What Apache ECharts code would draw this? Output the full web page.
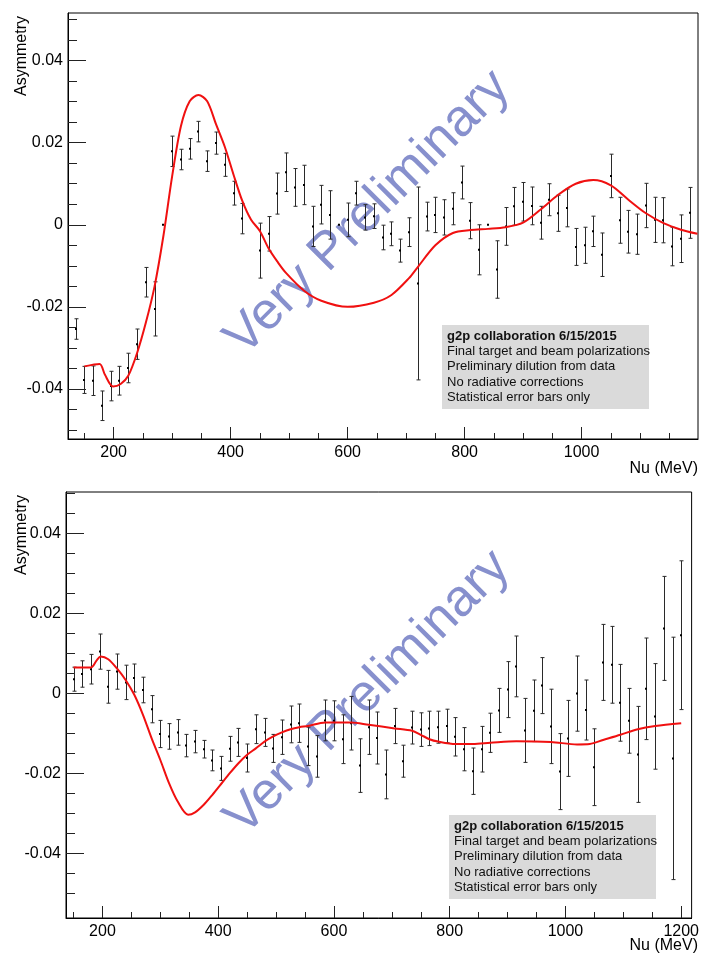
<!DOCTYPE html>
<html>
<head>
<meta charset="utf-8">
<script src="https://cdn.jsdelivr.net/npm/echarts@6/dist/echarts.min.js"></script>
<style>
  html, body { margin: 0; padding: 0; background: #fff; }
  #chart { width: 702px; height: 956px; }
</style>
</head>
<body>
<div id="chart"></div>
<script>
// ---- top panel: measured asymmetry (Nu in MeV) ----
const topNu = [135,150,165,180,195,210,225,240,255,270,285,300,315,330,345,360,375,390,405,420,
  435,450,465,480,495,510,525,540,555,570,585,600,615,630,645,660,675,690,705,720,
  735,750,765,780,795,810,825,840,855,870,885,900,915,930,945,960,975,990,1005,1020,
  1035,1050,1065,1080,1095,1110,1125,1140,1155,1170,1185]
const topAsym = [-0.0254,-0.0378,-0.038,-0.0441,-0.0393,-0.038,-0.0349,-0.0291,-0.014,-0.0205,
  0,0.0179,0.0159,0.0185,0.0227,0.0155,0.0199,0.0146,0.0077,0.0015,
  null,-0.0063,-0.0022,0.0076,0.0128,0.0091,0.0097,-0.0004,0.0049,0.0024,
  0,0.0012,0.0077,0.0018,0.0021,-0.0031,-0.0022,-0.0063,-0.0018,-0.0143,
  0.002,0.0024,0.0018,0.0039,0.0103,0.001,-0.0061,0,-0.0109,-0.0004,
  0.0045,0.0056,0.0046,0.0005,0.0061,0.0028,0.0041,-0.0054,-0.005,-0.0016,
  -0.0073,0.0119,0.0011,-0.0017,-0.0023,0.0047,0.0012,0.0011,-0.0053,-0.0034,0.0029]
const topErr = [0.0025,0.0033,0.0036,0.0036,0.0036,0.0035,0.0036,0.0037,0.0036,0.0066,
  0,0.0037,0.0025,0.0025,0.0025,0.0025,0.0027,0.0028,0.0029,0.0037,
  null,0.0067,0.0042,0.005,0.0047,0.0046,0.0048,0.0049,0.0047,0.0059,
  0,0.0041,0.0029,0.0031,0.003,0.003,0.0029,0.0028,0.0035,0.0235,
  0.0035,0.0043,0.0043,0.0039,0.004,0.0044,0.0061,0,0.007,0.0046,
  0.0046,0.0047,0.0046,0.004,0.0039,0.0044,0.0046,0.0045,0.0044,0.0037,
  0.0053,0.0053,0.0056,0.0052,0.0049,0.0054,0.0055,0.0055,0.0047,0.0058,0.0062]

// top panel model curve
const topCurveNu = [150,176,185,199,212,225,240,255,270,285,300,315,330,345,360,375,390,405,420,435,
  450,465,480,495,525,555,600,645,675,705,720,750,780,810,840,870,900,930,960,990,
  1020,1050,1080,1110,1140,1170,1198]
const topCurveAsym = [-0.0345,-0.0339,-0.0365,-0.0394,-0.0388,-0.0368,-0.0313,-0.0239,-0.015,-0.0028,
  0.0118,0.024,0.0301,0.0316,0.0301,0.0245,0.019,0.0122,0.0058,0.0012,
  -0.0015,-0.0058,-0.009,-0.0118,-0.016,-0.0185,-0.02,-0.019,-0.0171,-0.013,
  -0.0103,-0.005,-0.002,-0.0013,-0.001,-0.0006,0.0005,0.0037,0.0073,0.01,
  0.0109,0.0096,0.0061,0.0028,0.0004,-0.0012,-0.0022]

// ---- bottom panel ----
const bottomNu = [150,165,180,195,210,225,240,255,270,285,300,315,330,345,360,375,390,405,420,435,
  450,465,480,495,510,525,540,555,570,585,600,615,630,645,660,675,690,705,720,735,
  750,765,780,795,810,825,840,855,870,885,900,915,930,945,960,975,990,1005,1020,1035,
  1050,1065,1080,1095,1110,1125,1140,1155,1170,1185,1200]
const bottomAsym = [0.0035,0.0048,0.006,0.0104,0.0016,0.0054,0.0027,0.0038,0.0008,-0.004,
  -0.0102,-0.0108,-0.0098,-0.0131,-0.0121,-0.014,-0.0168,-0.0188,-0.0139,-0.0123,
  -0.0162,-0.009,-0.0098,-0.0138,-0.011,-0.0078,-0.0075,-0.0133,-0.0158,-0.0068,
  -0.0069,-0.0115,-0.0075,-0.0181,-0.0085,-0.0112,-0.0203,-0.0082,-0.017,-0.0086,
  -0.0091,-0.0088,-0.0085,-0.0082,-0.0109,-0.014,-0.0195,-0.014,-0.0099,-0.0043,
  0.0009,0.0067,-0.0093,-0.0044,0.0019,-0.0083,-0.0196,-0.0113,-0.0001,-0.0042,
  -0.0185,0.0077,0.0071,-0.0024,-0.0069,-0.0153,0.0011,-0.0058,0.0162,-0.0163,0.0145]
const bottomErr = [0.003,0.0033,0.0037,0.0044,0.0041,0.0044,0.0043,0.0035,0.0032,0.0034,
  0.0034,0.0032,0.0032,0.0028,0.0028,0.0022,0.0026,0.003,0.0031,0.0035,
  0.0035,0.0036,0.0035,0.0035,0.0043,0.0046,0.0048,0.0048,0.0052,0.0051,
  0.005,0.0061,0.0067,0.0067,0.0068,0.0065,0.0061,0.0044,0.004,0.0041,
  0.0042,0.0043,0.004,0.0042,0.0048,0.0054,0.0058,0.0057,0.0049,0.0055,
  0.007,0.0076,0.008,0.0077,0.007,0.0093,0.0095,0.0095,0.0094,0.0075,
  0.0096,0.0095,0.0096,0.0096,0.0081,0.012,0.0127,0.0132,0.013,0.0303,0.0186]

const bottomCurveNu = [150,180,190,197,210,225,240,255,270,285,300,315,330,348,360,375,390,405,420,435,
  450,465,480,495,510,525,540,555,585,630,660,705,735,750,765,780,810,840,870,915,
  975,1020,1042,1065,1095,1125,1155,1200]
const bottomCurveAsym = [0.0064,0.0064,0.0082,0.0092,0.0085,0.0062,0.0033,-0.0004,-0.0054,-0.0113,
  -0.0167,-0.0225,-0.0271,-0.0304,-0.0298,-0.0279,-0.0254,-0.0227,-0.02,-0.0175,
  -0.0154,-0.0138,-0.0121,-0.0108,-0.0098,-0.009,-0.0085,-0.0082,-0.0073,-0.0073,
  -0.0079,-0.0088,-0.0094,-0.0104,-0.0115,-0.0121,-0.0127,-0.0127,-0.0124,-0.012,
  -0.0122,-0.0128,-0.0127,-0.0117,-0.0104,-0.009,-0.0082,-0.0075]

// tick labels
const topXLabels = [200, 400, 600, 800, 1000]
const bottomXLabels = [200, 400, 600, 800, 1000, 1200]
const yLabels = [-0.04, -0.02, 0, 0.02, 0.04]

const notes = ['g2p collaboration 6/15/2015', 'Final target and beam polarizations',
  'Preliminary dilution from data', 'No radiative corrections', 'Statistical error bars only']

const FONT = '"Liberation Sans", Arial, Helvetica, sans-serif'

// minor tick positions
function steps(from, to, step) {
  const out = []
  for (let v = from; v <= to + 1e-9; v += step) out.push(Math.round(v * 10000) / 10000)
  return out
}
const xMinor = steps(150, 1200, 50)
const yMinor = steps(-0.05, 0.05, 0.005)

function errData(nu, asym, err) {
  const out = []
  nu.forEach((x, i) => { if (asym[i] !== null) out.push([x, asym[i], err[i]]) })
  return out
}
function pairs(xs, ys) { return xs.map((x, i) => [x, ys[i]]) }

function renderErr(params, api) {
  const x = api.value(0), y = api.value(1), e = api.value(2)
  const c = api.coord([x, y])
  const px = Math.round(c[0]) + 0.5
  const children = []
  if (e > 0) {
    const hi = api.coord([x, y + e])[1], lo = api.coord([x, y - e])[1]
    const st = { stroke: '#2a2a2a', lineWidth: 1 }
    children.push({ type: 'line', shape: { x1: px, y1: hi, x2: px, y2: lo }, style: st })
    children.push({ type: 'line', shape: { x1: px - 2, y1: hi, x2: px + 2, y2: hi }, style: st })
    children.push({ type: 'line', shape: { x1: px - 2, y1: lo, x2: px + 2, y2: lo }, style: st })
  }
  children.push({ type: 'rect', shape: { x: px - 1.5, y: c[1] - 1, width: 2, height: 2 }, style: { fill: '#000' } })
  return { type: 'group', children }
}

function xAxisPair(gridIndex, min, max, labels) {
  return [
    { type: 'value', gridIndex, min, max, position: 'bottom',
      axisLine: { show: true, onZero: false, lineStyle: { color: '#000', width: 1 } },
      axisTick: { show: true, inside: true, length: 12, customValues: labels, lineStyle: { color: '#222' } },
      axisLabel: { show: true, customValues: labels, margin: 6, color: '#000', fontSize: 16, fontFamily: FONT,
        formatter: v => String(v) },
      splitLine: { show: false } },
    { type: 'value', gridIndex, min, max, position: 'bottom',
      axisLine: { show: false, onZero: false },
      axisTick: { show: true, inside: true, length: 6, customValues: xMinor.filter(v => v > min && v < max), lineStyle: { color: '#222' } },
      axisLabel: { show: false }, splitLine: { show: false } }
  ]
}
function yAxisPair(gridIndex, min, max) {
  return [
    { type: 'value', gridIndex, min, max, position: 'left',
      axisLine: { show: true, onZero: false, lineStyle: { color: '#000', width: 1 } },
      axisTick: { show: true, inside: true, length: 18, customValues: yLabels, lineStyle: { color: '#222' } },
      axisLabel: { show: true, customValues: yLabels, margin: 5, color: '#000', fontSize: 16, fontFamily: FONT,
        formatter: v => String(v) },
      splitLine: { show: false } },
    { type: 'value', gridIndex, min, max, position: 'left',
      axisLine: { show: false, onZero: false },
      axisTick: { show: true, inside: true, length: 9, customValues: yMinor.filter(v => v > min && v < max), lineStyle: { color: '#222' } },
      axisLabel: { show: false }, splitLine: { show: false } }
  ]
}

function noteBox(x, y) {
  const children = [{ type: 'rect', shape: { x: 0, y: 0, width: 207, height: 84 }, style: { fill: '#dadada' } }]
  notes.forEach((t, i) => {
    children.push({ type: 'text', x: 5, y: 11 + i * 15.4,
      style: { text: t, fill: '#111', font: (i === 0 ? 'bold ' : '') + '13px ' + FONT, textVerticalAlign: 'middle' } })
  })
  return { type: 'group', x, y, z: 20, children }
}

function watermark(cx, cy) {
  return { type: 'text', x: cx, y: cy, rotation: Math.PI / 4, z: 1,
    style: { text: 'Very Preliminary', fill: '#8790cd', font: '52px ' + FONT, textAlign: 'center', textVerticalAlign: 'middle' } }
}
function axisTitle(text, x, y, rotate) {
  return { type: 'text', x, y, rotation: rotate ? Math.PI / 2 : 0, z: 20,
    style: { text, fill: '#000', font: '16px ' + FONT, textAlign: rotate ? 'center' : 'right', textVerticalAlign: 'middle' } }
}

const chart = echarts.init(document.getElementById('chart'))
const option = {
  animation: false,
  backgroundColor: '#fff',
  grid: [
    { left: 68, top: 13, width: 630, height: 426, show: true, borderColor: '#000', borderWidth: 1, containLabel: false },
    { left: 66, top: 492, width: 632, height: 426, show: true, borderColor: '#000', borderWidth: 1, containLabel: false }
  ],
  xAxis: [...xAxisPair(0, 122, 1199, topXLabels), ...xAxisPair(1, 137, 1218, bottomXLabels)],
  yAxis: [...yAxisPair(0, -0.0522, 0.0516), ...yAxisPair(1, -0.0562, 0.0503)],
  graphic: [
    watermark(368, 213),
    watermark(368, 693),
    noteBox(442, 325),
    noteBox(449, 815),
    axisTitle('Asymmetry', 22, 56, true),
    axisTitle('Asymmetry', 22, 535, true),
    axisTitle('Nu (MeV)', 698, 469, false),
    axisTitle('Nu (MeV)', 698, 946, false)
  ],
  series: [
    { type: 'custom', xAxisIndex: 0, yAxisIndex: 0, z: 5, renderItem: renderErr,
      data: errData(topNu, topAsym, topErr), encode: { x: 0, y: 1 } },
    { type: 'line', xAxisIndex: 0, yAxisIndex: 0, z: 6, smooth: 0.3, showSymbol: false,
      lineStyle: { color: '#f01010', width: 2 }, data: pairs(topCurveNu, topCurveAsym) },
    { type: 'custom', xAxisIndex: 2, yAxisIndex: 2, z: 5, renderItem: renderErr,
      data: errData(bottomNu, bottomAsym, bottomErr), encode: { x: 0, y: 1 } },
    { type: 'line', xAxisIndex: 2, yAxisIndex: 2, z: 6, smooth: 0.3, showSymbol: false,
      lineStyle: { color: '#f01010', width: 2 }, data: pairs(bottomCurveNu, bottomCurveAsym) }
  ]
}
chart.setOption(option)
</script>
</body>
</html>
